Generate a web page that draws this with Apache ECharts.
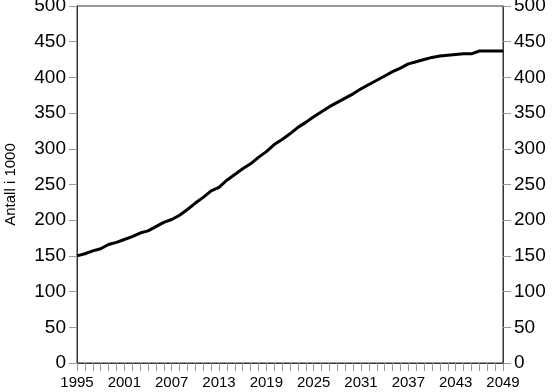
<!DOCTYPE html>
<html>
<head>
<meta charset="utf-8">
<script src="https://cdn.jsdelivr.net/npm/echarts@6/dist/echarts.min.js"></script>
<style>html,body{margin:0;padding:0;background:#fff}#c{width:552px;height:392px}</style>
</head>
<body>
<div id="c"></div>
<script>
const years = [1995,1996,1997,1998,1999,2000,2001,2002,2003,2004,2005,2006,2007,2008,2009,2010,2011,2012,2013,2014,2015,2016,2017,2018,2019,2020,2021,2022,2023,2024,2025,2026,2027,2028,2029,2030,2031,2032,2033,2034,2035,2036,2037,2038,2039,2040,2041,2042,2043,2044,2045,2046,2047,2048,2049];
const values = [150,153,157,160,166,169,173,177,182,185,191,197,201,207,215,224,232,241,246,256,264,272,279,288,296,306,313,321,330,337,345,352,359,365,371,377,384,390,396,402,408,413,419,422,425,428,430,431,432,433,433,437,437,437,437];
const yAxisTitle = "Antall i 1000";

const chart = echarts.init(document.getElementById('c'), null, {renderer: 'canvas'});
const font = 'Liberation Sans, Arial, Helvetica, sans-serif';
const yCommon = {
  type: 'value', min: 0, max: 500, interval: 50,
  axisLine: {show: true, lineStyle: {color: '#333', width: 1}},
  axisTick: {show: true, length: 8, lineStyle: {color: '#999'}},
  axisLabel: {fontSize: 19, color: '#000', fontFamily: font, margin: 11},
  splitLine: {show: false}
};
chart.setOption({
  animation: false,
  grid: {left: 77, right: 49, top: 6, bottom: 29, show: true, borderColor: '#333', borderWidth: 1, containLabel: false, outerBoundsMode: 'none'},
  xAxis: {
    type: 'value', min: 1995, max: 2049, interval: 6,
    axisLine: {show: true, onZero: false, lineStyle: {color: '#333', width: 1}},
    axisTick: {show: true, length: 8, lineStyle: {color: '#999'}},
    minorTick: {show: true, splitNumber: 6, length: 8, lineStyle: {color: '#999'}},
    axisLabel: {fontSize: 15, color: '#000', fontFamily: font, margin: 12, formatter: v => String(v)},
    splitLine: {show: false}
  },
  yAxis: [
    Object.assign({}, yCommon, {position: 'left', name: yAxisTitle, nameLocation: 'middle', nameGap: 59, nameTextStyle: {fontSize: 15, color: '#000', fontFamily: font}}),
    Object.assign({}, yCommon, {position: 'right'})
  ],
  series: [{
    type: 'line',
    data: years.map((y, i) => [y, values[i]]),
    showSymbol: false,
    lineStyle: {color: '#000', width: 3},
    yAxisIndex: 0
  }]
});
</script>
</body>
</html>
